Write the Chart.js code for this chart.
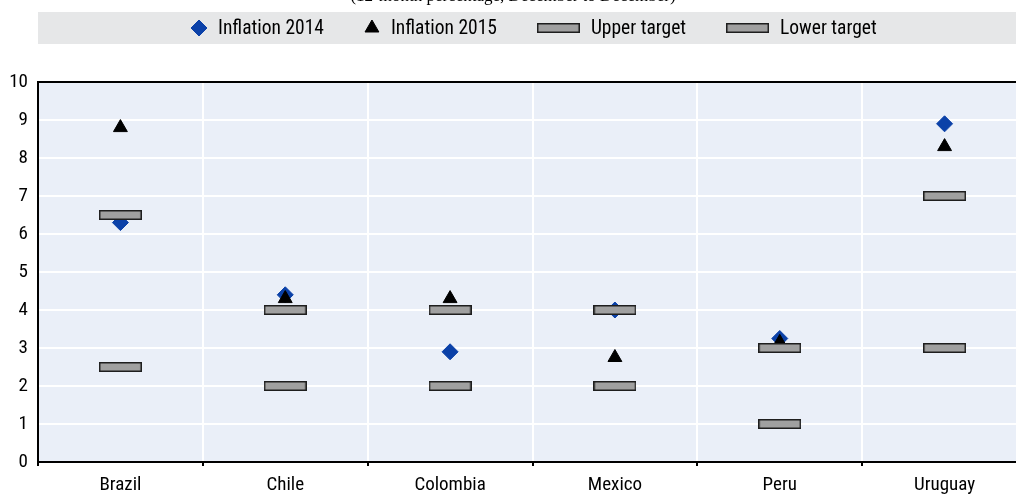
<!DOCTYPE html>
<html>
<head>
<meta charset="utf-8">
<script src="https://cdn.jsdelivr.net/npm/chart.js@4.4.1/dist/chart.umd.min.js"></script>
<style>
    html, body { margin: 0; padding: 0; background: #fff; overflow: hidden; }
    #wrap { position: relative; width: 1036px; height: 494px; }
    #note {
        position: absolute; top: -13px; left: 5px; width: 1016px;
        text-align: center; white-space: nowrap; color: #000;
        font: 17px/17px "Liberation Serif", serif;
    }
</style>
</head>
<body>
<div id="wrap">
    <canvas id="inflationChart" width="1036" height="494"></canvas>
    <div id="note">(12-month percentage, December to December)</div>
</div>
<script>
const countries = ["Brazil", "Chile", "Colombia", "Mexico", "Peru", "Uruguay"];
const inflation2014 = [6.3, 4.4, 2.9, 4.0, 3.25, 8.9];
const inflation2015 = [8.8, 4.3, 4.3, 2.75, 3.15, 8.3];
const upperTarget = [6.5, 4, 4, 4, 3, 7];
const lowerTarget = [2.5, 2, 2, 2, 1, 3];
const yTicks = [0, 1, 2, 3, 4, 5, 6, 7, 8, 9, 10];

const fontFamily = '"Roboto Condensed", "Arial Narrow", sans-serif';
const blue = '#0b41a8';

// grey bar used as the marker for the targets
function targetMarker() {
    const c = document.createElement('canvas');
    c.width = 43;
    c.height = 10;
    const g = c.getContext('2d');
    g.fillStyle = '#a0a0a0';
    g.fillRect(0, 0, 43, 10);
    g.strokeStyle = '#1e1e1e';
    g.lineWidth = 1.5;
    g.strokeRect(0.75, 0.75, 41.5, 8.5);
    return c;
}
const bar = targetMarker();

const plotBackground = {
    id: 'plotBackground',
    beforeDraw(chart) {
        const { ctx, chartArea } = chart;
        ctx.save();
        ctx.fillStyle = '#eaeff8';
        ctx.fillRect(chartArea.left, chartArea.top, chartArea.right - chartArea.left, chartArea.bottom - chartArea.top);
        ctx.restore();
    },
    afterDraw(chart) {
        const { ctx, chartArea } = chart;
        ctx.save();
        ctx.strokeStyle = '#000';
        ctx.lineWidth = 2;
        ctx.beginPath();
        ctx.moveTo(chartArea.left - 1, chartArea.top);
        ctx.lineTo(chart.width, chartArea.top);
        ctx.stroke();
        ctx.restore();
    }
};

// legend on a grey band, markers keep their own widths
const bandLegend = {
    id: 'bandLegend',
    afterDraw(chart) {
        const { ctx, chartArea } = chart;
        const top = 12, height = 32, mid = top + height / 2;
        ctx.save();
        ctx.fillStyle = '#e6e7e8';
        ctx.fillRect(chartArea.left, top, chart.width - chartArea.left, height);
        ctx.font = '19.5px ' + fontFamily;
        ctx.textBaseline = 'middle';

        const gap = 11, spacing = 40;
        let x = 191;
        chart.data.datasets.forEach(ds => {
            const markW = ds.pointStyle === bar ? 43 : 16;
            ctx.fillStyle = ds.backgroundColor;
            ctx.strokeStyle = ds.borderColor;
            ctx.lineWidth = 1;
            Chart.helpers.drawPoint(ctx, {
                pointStyle: ds.pointStyle,
                radius: ds.pointRadius,
                rotation: 0,
                borderWidth: 1
            }, x + markW / 2, mid);
            x += markW + gap;
            ctx.fillStyle = '#000';
            ctx.fillText(ds.label, x, mid + 1);
            x += ctx.measureText(ds.label).width + spacing;
        });
        ctx.restore();
    }
};

const inflationChart = new Chart(document.getElementById('inflationChart'), {
    type: 'line',
    data: {
        labels: countries,
        datasets: [{
            label: 'Inflation 2014',
            data: inflation2014,
            pointStyle: 'rectRot',
            pointRadius: 8,
            backgroundColor: blue,
            borderColor: blue,
            borderWidth: 1,
            order: 4
        }, {
            label: 'Inflation 2015',
            data: inflation2015,
            pointStyle: 'triangle',
            pointRadius: 8,
            backgroundColor: '#000',
            borderColor: '#000',
            borderWidth: 1,
            order: 3
        }, {
            label: 'Upper target',
            data: upperTarget,
            pointStyle: bar,
            pointRadius: 8,
            backgroundColor: '#a0a0a0',
            borderColor: '#1e1e1e',
            order: 2
        }, {
            label: 'Lower target',
            data: lowerTarget,
            pointStyle: bar,
            pointRadius: 8,
            backgroundColor: '#a0a0a0',
            borderColor: '#1e1e1e',
            order: 1
        }]
    },
    options: {
        responsive: false,
        animation: false,
        showLine: false,
        layout: { padding: { top: 82, right: 0, bottom: 0, left: 0 } },
        plugins: {
            legend: { display: false },
            tooltip: { enabled: false }
        },
        scales: {
            x: {
                offset: true,
                afterFit: scale => { scale.height = 32; },
                grid: {
                    offset: true,
                    color: '#ffffff',
                    lineWidth: 2,
                    tickColor: '#000',
                    tickLength: 4
                },
                border: { color: '#000', width: 2 },
                ticks: {
                    color: '#000',
                    padding: 8,
                    maxRotation: 0,
                    font: { family: fontFamily, size: 19 }
                }
            },
            y: {
                min: 0,
                max: 10,
                afterFit: scale => { scale.width = 38; },
                afterBuildTicks: scale => {
                    scale.ticks = yTicks.map(v => ({ value: v }));
                },
                grid: {
                    color: '#ffffff',
                    lineWidth: 2,
                    drawTicks: false
                },
                border: { color: '#000', width: 2 },
                ticks: {
                    color: '#000',
                    padding: 10,
                    font: { family: fontFamily, size: 19 }
                }
            }
        }
    },
    plugins: [plotBackground, bandLegend]
});
</script>
</body>
</html>
